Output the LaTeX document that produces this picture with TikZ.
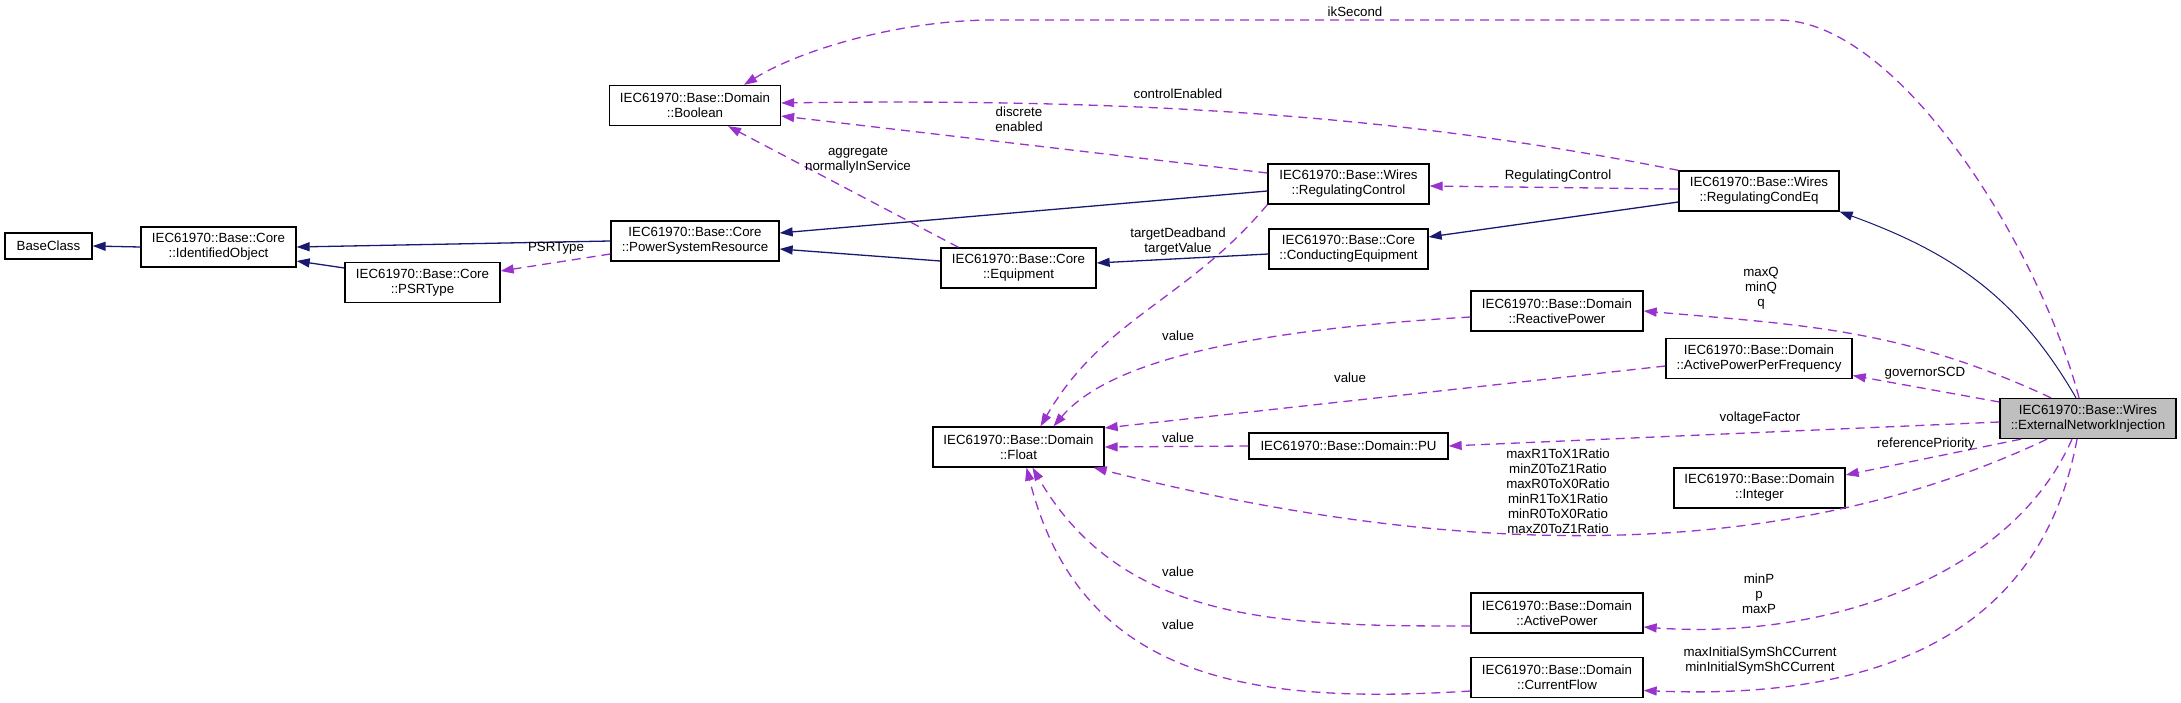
\documentclass[tikz,border=0pt]{standalone}
\usepackage{fontspec}
\setmainfont{Liberation Sans}
\usetikzlibrary{arrows.meta}
\definecolor{inhcolor}{HTML}{191970}
\definecolor{usecolor}{HTML}{9A32CD}
\tikzset{
  cls/.style={draw=black, line width=1.3pt, fill=white, align=center, inner sep=0pt,
    minimum height=40pt, font=\fontsize{13.3}{15}\selectfont},
  inh/.style={draw=inhcolor, line width=1.3pt, -{Triangle[length=13pt,width=9pt]}},
  uses/.style={draw=usecolor, line width=1.3pt, dash pattern=on 9pt off 6pt,
    -{Triangle[length=13pt,width=9pt]}},
  lbl/.style={align=center, inner sep=0pt, font=\fontsize{13.3}{15}\selectfont}
}
\begin{document}
\begin{tikzpicture}[x=1pt,y=-1pt]
\useasboundingbox (0,0) rectangle (2181,703);

% classes
\node[cls, minimum width=87pt, minimum height=26pt] (base) at (48.5,246) {BaseClass};
\node[cls, minimum width=155pt] (idobj) at (218.5,247) {IEC61970::Base::Core\\::IdentifiedObject};
\node[cls, minimum width=155pt] (psrtype) at (422.5,282.5) {IEC61970::Base::Core\\::PSRType};
\node[cls, minimum width=168pt] (psr) at (695,241) {IEC61970::Base::Core\\::PowerSystemResource};
\node[cls, minimum width=171pt] (bool) at (695,105.5) {IEC61970::Base::Domain\\::Boolean};
\node[cls, minimum width=155pt] (equip) at (1018.5,268) {IEC61970::Base::Core\\::Equipment};
\node[cls, minimum width=161pt] (regctl) at (1348.5,184) {IEC61970::Base::Wires\\::RegulatingControl};
\node[cls, minimum width=159pt] (condeq) at (1348.5,249) {IEC61970::Base::Core\\::ConductingEquipment};
\node[cls, minimum width=160pt] (regcond) at (1759,191) {IEC61970::Base::Wires\\::RegulatingCondEq};
\node[cls, minimum width=172pt] (reactive) at (1557,311) {IEC61970::Base::Domain\\::ReactivePower};
\node[cls, minimum width=186pt] (appf) at (1759,358.5) {IEC61970::Base::Domain\\::ActivePowerPerFrequency};
\node[cls, minimum width=176pt, fill=black!25] (eni) at (2088,418.5) {IEC61970::Base::Wires\\::ExternalNetworkInjection};
\node[cls, minimum width=171pt] (float) at (1018.5,447) {IEC61970::Base::Domain\\::Float};
\node[cls, minimum width=199pt, minimum height=26pt] (pu) at (1348.5,446) {IEC61970::Base::Domain::PU};
\node[cls, minimum width=171pt] (integer) at (1759.5,488) {IEC61970::Base::Domain\\::Integer};
\node[cls, minimum width=172pt] (actp) at (1557,613) {IEC61970::Base::Domain\\::ActivePower};
\node[cls, minimum width=172pt] (curr) at (1557,677.5) {IEC61970::Base::Domain\\::CurrentFlow};

% inheritance
\draw[inh] (idobj.west) -- (base.east);
\draw[inh] (psr.west) -- (idobj.east);
\draw[inh] ([yshift=14.5pt]psrtype.west) -- ([yshift=-14pt]idobj.east);
\draw[inh] ([yshift=-7pt]regctl.west) -- ([yshift=8pt]psr.east);
\draw[inh] ([yshift=7pt]equip.west) -- ([yshift=-8pt]psr.east);
\draw[inh] ([yshift=-5pt]condeq.west) -- ([yshift=5pt]equip.east);
\draw[inh] ([yshift=-11pt]regcond.west) -- ([yshift=12pt]condeq.east);
\draw[inh, line width=1pt] ([xshift=-12pt]eni.north) to[out=120,in=-20] (regcond.south east);

% members
\draw[uses] ([xshift=-9pt]eni.north) .. controls (2040,250) and (1900,20) .. (1778,20)
  -- (994,20) .. controls (900,20) and (800,50) .. ([xshift=49pt]bool.north);
\draw[uses] (regcond.north west) .. controls (1450,125) and (1200,97) .. ([yshift=2.5pt]bool.east);
\draw[uses] ([yshift=11pt]regctl.west) -- ([yshift=-10.5pt]bool.east);
\draw[uses] ([xshift=-60pt]equip.north) -- ([xshift=33pt]bool.south);
\draw[uses] ([yshift=-13pt]psr.west) -- ([yshift=11.5pt]psrtype.east);
\draw[uses] ([yshift=2pt]regcond.west) -- ([yshift=-2pt]regctl.east);
\draw[uses] (regctl.south west) to[out=-130,in=60] ([xshift=22pt]float.north);
\draw[uses] ([yshift=-6pt]reactive.west) .. controls (1250,330) and (1110,360) .. ([xshift=35pt]float.north);
\draw[uses] ([yshift=-7.5pt]appf.west) -- ([yshift=19pt]float.east);
\draw[uses] (pu.west) -- (float.east);
\draw[uses] ([yshift=-13pt]actp.west) to[out=180,in=-60] ([xshift=14pt]float.south);
\draw[uses] ([yshift=-13.5pt]curr.west) .. controls (1250,705) and (1080,680) .. ([xshift=8pt]float.south);
\draw[uses] ([xshift=-37pt]eni.north) to[out=155,in=-5] (reactive.east);
\draw[uses] ([yshift=16.5pt]eni.west) -- ([yshift=-17pt]appf.east);
\draw[uses] ([yshift=-3.5pt]eni.west) -- (pu.east);
\draw[uses] ([xshift=-67pt]eni.south) -- ([yshift=13pt]integer.east);
\draw[uses] ([xshift=-41pt]eni.south) .. controls (1750,580) and (1400,545) .. ([xshift=-11pt]float.south east);
\draw[uses] ([xshift=-16pt]eni.south) .. controls (2010,580) and (1820,640) .. ([yshift=-14pt]actp.east);
\draw[uses] ([xshift=-11pt]eni.south) .. controls (2040,640) and (1870,700) .. ([yshift=-13pt]curr.east);

% labels
\node[lbl] (lIk) at (1355,12) {ikSecond};
\node[lbl] (lCtrl) at (1178,94) {controlEnabled};
\node[lbl] (lDisc) at (1019,119.5) {discrete\\enabled};
\node[lbl] (lAggr) at (858,160.5) {aggregate\\normallyInService};
\node[lbl] (lPsrt) at (556,248) {PSRType};
\node[lbl] (lRegc) at (1558,176) {RegulatingControl};
\node[lbl] (lTgt) at (1178,241.5) {targetDeadband\\targetValue};
\node[lbl] (lVal1) at (1178,336) {value};
\node[lbl] (lVal2) at (1350,378) {value};
\node[lbl] (lVal3) at (1178,438) {value};
\node[lbl] (lVal4) at (1178,572) {value};
\node[lbl] (lVal5) at (1178,625) {value};
\node[lbl] (lQ) at (1761,288) {maxQ\\minQ\\q};
\node[lbl] (lGov) at (1925,373) {governorSCD};
\node[lbl] (lVolt) at (1760,418) {voltageFactor};
\node[lbl] (lRef) at (1926,444) {referencePriority};
\node[lbl] (lRat) at (1558,491) {maxR1ToX1Ratio\\minZ0ToZ1Ratio\\maxR0ToX0Ratio\\minR1ToX1Ratio\\minR0ToX0Ratio\\maxZ0ToZ1Ratio};
\node[lbl] (lP) at (1759,594) {minP\\p\\maxP};
\node[lbl] (lIsc) at (1760,661) {maxInitialSymShCCurrent\\minInitialSymShCCurrent};
\end{tikzpicture}
\end{document}
